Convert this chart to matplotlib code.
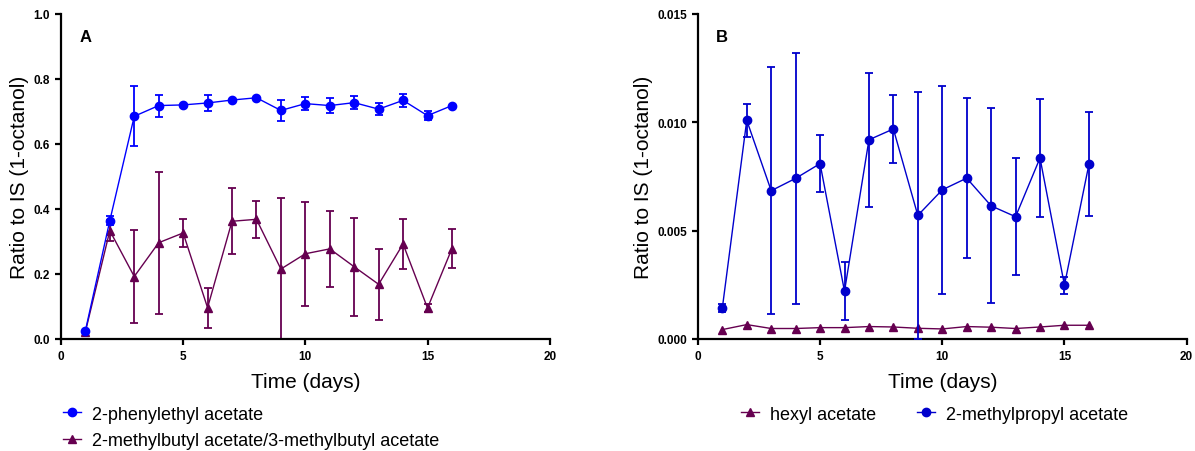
import numpy as np
import matplotlib.pyplot as plt

plt.rcParams['font.family'] = ['Liberation Sans', 'DejaVu Sans']

days = np.arange(1, 17)

# Panel A
phenylethyl = [0.025, 0.364, 0.685, 0.718, 0.720, 0.726, 0.735, 0.742,
               0.703, 0.724, 0.718, 0.727, 0.707, 0.734, 0.687, 0.718]
phenylethyl_err = [0.0, 0.013, 0.092, 0.034, 0.0, 0.025, 0.0, 0.0,
                   0.032, 0.019, 0.023, 0.020, 0.018, 0.021, 0.014, 0.0]
methylbutyl = [0.022, 0.333, 0.192, 0.296, 0.326, 0.096, 0.362, 0.368,
               0.215, 0.262, 0.277, 0.222, 0.168, 0.292, 0.095, 0.278]
methylbutyl_err = [0.0, 0.033, 0.142, 0.218, 0.043, 0.061, 0.101, 0.056,
                   0.220, 0.160, 0.116, 0.150, 0.110, 0.077, 0.013, 0.061]

# Panel B
hexyl = [0.00043, 0.00066, 0.00048, 0.00048, 0.00052, 0.00052, 0.00057, 0.00055,
         0.00049, 0.00046, 0.00057, 0.00054, 0.00048, 0.00055, 0.00063, 0.00063]
methylpropyl = [0.00142, 0.01009, 0.00684, 0.00741, 0.00809, 0.00220, 0.00919, 0.00969,
                0.00570, 0.00688, 0.00742, 0.00614, 0.00564, 0.00835, 0.00248, 0.00805]
methylpropyl_err = [0.00018, 0.00077, 0.00571, 0.00580, 0.00130, 0.00134, 0.00310, 0.00157,
                    0.00570, 0.00480, 0.00370, 0.00450, 0.00270, 0.00274, 0.00040, 0.00240]

blue_a = '#0000ff'
blue_b = '#0000cc'
purple = '#660050'

fig = plt.figure(figsize=(11.95, 4.52), dpi=100)
axA = fig.add_axes([0.051, 0.248, 0.409, 0.719])
axB = fig.add_axes([0.584, 0.248, 0.409, 0.719])


def style_axes(ax):
    ax.spines['top'].set_visible(False)
    ax.spines['right'].set_visible(False)
    ax.spines['left'].set_linewidth(1.6)
    ax.spines['bottom'].set_linewidth(1.6)
    ax.tick_params(direction='out', length=4, width=1.6, labelsize=8.5, pad=4)
    for lbl in ax.get_xticklabels() + ax.get_yticklabels():
        lbl.set_fontweight('bold')
    ax.set_xlim(0, 20)
    ax.set_xticks([0, 5, 10, 15, 20])
    ax.set_xlabel('Time (days)', fontsize=15, labelpad=7)
    ax.set_ylabel('Ratio to IS (1-octanol)', fontsize=15, labelpad=3)


leg_kw = dict(frameon=False, fontsize=13, handlelength=1.0,
              handletextpad=0.6, borderaxespad=0, borderpad=0)

# Panel A
c_mb = axA.errorbar(days, methylbutyl, yerr=methylbutyl_err, color=purple, marker='^',
                    markersize=6, linewidth=1, elinewidth=1.3, capsize=3, capthick=1.3,
                    zorder=2)
c_pe = axA.errorbar(days, phenylethyl, yerr=phenylethyl_err, color=blue_a, marker='o',
                    markersize=6, linewidth=1, elinewidth=1.3, capsize=3, capthick=1.3,
                    zorder=3)
axA.set_ylim(0, 1.0)
axA.set_yticks([0.0, 0.2, 0.4, 0.6, 0.8, 1.0])
axA.set_yticklabels(['0.0', '0.2', '0.4', '0.6', '0.8', '1.0'])
style_axes(axA)
axA.text(0.038, 0.932, 'A', transform=axA.transAxes, fontsize=12,
         fontweight='bold', va='center')
axA.legend([c_pe[0], c_mb[0]],
           ['2-phenylethyl acetate', '2-methylbutyl acetate/3-methylbutyl acetate'],
           loc='upper left', bbox_to_anchor=(0.004, -0.205), labelspacing=0.55, **leg_kw)

# Panel B
l_hx, = axB.plot(days, hexyl, color=purple, marker='^', markersize=6, linewidth=1,
                 zorder=2)
c_mp = axB.errorbar(days, methylpropyl, yerr=methylpropyl_err, color=blue_b, marker='o',
                    markersize=6, linewidth=1, elinewidth=1.3, capsize=3, capthick=1.3,
                    zorder=3)
axB.set_ylim(0, 0.015)
axB.set_yticks([0.0, 0.005, 0.010, 0.015])
axB.set_yticklabels(['0.000', '0.005', '0.010', '0.015'])
style_axes(axB)
axB.text(0.037, 0.932, 'B', transform=axB.transAxes, fontsize=12,
         fontweight='bold', va='center')
axB.legend([l_hx, c_mp[0]], ['hexyl acetate', '2-methylpropyl acetate'],
           loc='upper center', bbox_to_anchor=(0.484, -0.205), ncol=2,
           columnspacing=2.25, **leg_kw)

fig.savefig('out.png', dpi=100)
